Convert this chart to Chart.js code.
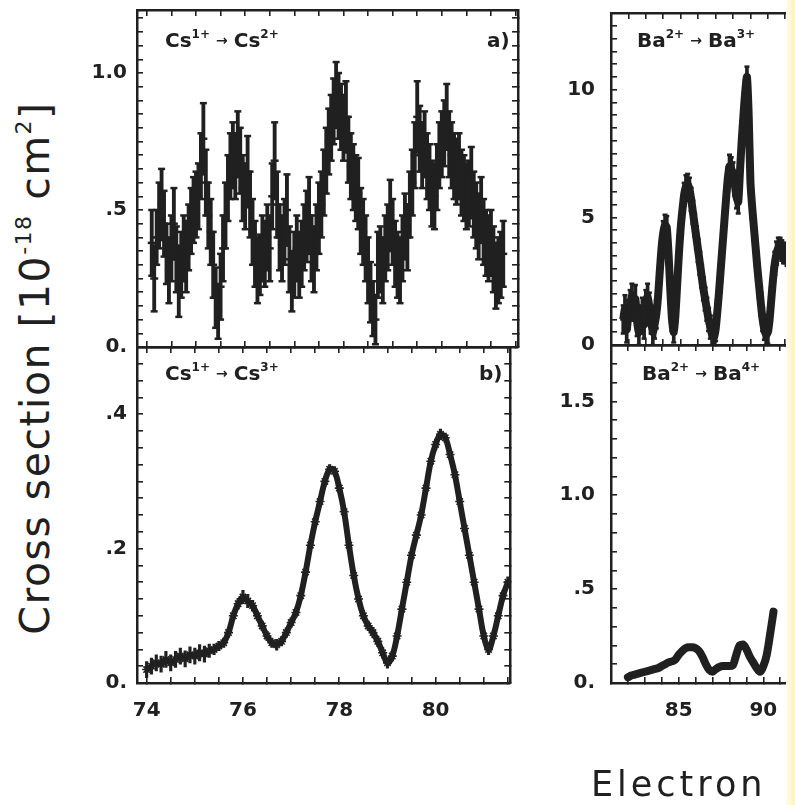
<!DOCTYPE html>
<html>
<head>
<meta charset="utf-8">
<script src="https://cdn.jsdelivr.net/npm/chart.js@4.4.1/dist/chart.umd.min.js"></script>
<style>
  html, body { margin: 0; padding: 0; background: #fff; }
  #page { position: relative; width: 795px; height: 805px; overflow: hidden; background: #fff; }
  #clip { position: absolute; left: 0; top: 0; width: 786px; height: 805px; overflow: hidden; }
  #strip { position: absolute; left: 786px; top: 0; width: 9px; height: 805px;
           background: linear-gradient(to right, #fffce8, #fbf3c0); }
  canvas { position: absolute; }
  .lbl { position: absolute; font-family: 'DejaVu Sans', sans-serif; font-weight: bold;
         font-size: 20px; line-height: 1; color: #202020; white-space: nowrap; }
  .lbl sup { font-size: 12px; vertical-align: 9px; line-height: 0; }
  .lbl .arr { font-size: 14px; font-weight: bold; margin: 0 6px; vertical-align: 2px; }
  #ytitle { position: absolute; left: 35px; top: 368px; transform: translate(-50%, -50%) rotate(-90deg);
            font-family: 'DejaVu Sans', sans-serif; font-size: 41px; line-height: 1; color: #202020;
            white-space: nowrap; letter-spacing: 1.5px; }
  #ytitle sup { font-size: 22px; vertical-align: 18px; line-height: 0; }
  #xtitle { position: absolute; left: 591px; top: 767px; font-family: 'DejaVu Sans', sans-serif;
            font-size: 35px; line-height: 1; color: #202020; letter-spacing: 4px; white-space: nowrap; }
</style>
</head>
<body>
<div id="page">
  <div id="clip">
    <canvas id="pa" width="470" height="417" style="left:60px;top:-30px"></canvas>
    <canvas id="pb" width="470" height="433" style="left:60px;top:307px"></canvas>
    <canvas id="pc" width="330" height="412" style="left:540px;top:-27px"></canvas>
    <canvas id="pd" width="330" height="435" style="left:540px;top:305px"></canvas>

    <div class="lbl" style="left:165px;top:30px">Cs<sup>1+</sup><span class="arr">→</span>Cs<sup>2+</sup></div>
    <div class="lbl" style="left:487px;top:30px">a)</div>
    <div class="lbl" style="left:165px;top:363px">Cs<sup>1+</sup><span class="arr">→</span>Cs<sup>3+</sup></div>
    <div class="lbl" style="left:479px;top:363px">b)</div>
    <div class="lbl" style="left:637px;top:30px">Ba<sup>2+</sup><span class="arr">→</span>Ba<sup>3+</sup></div>
    <div class="lbl" style="left:642px;top:363px">Ba<sup>2+</sup><span class="arr">→</span>Ba<sup>4+</sup></div>

    <div id="ytitle">Cross section [10<sup>-18</sup> cm<sup>2</sup>]</div>
    <div id="xtitle">Electron</div>
  </div>
  <div id="strip"></div>
</div>

<script>
// ---- panel a: Cs1+ -> Cs2+ ----
const aE = [
  74.10, 74.15, 74.20, 74.25, 74.30, 74.35, 74.40, 74.45, 74.50, 74.55,
  74.60, 74.65, 74.70, 74.75, 74.80, 74.85, 74.90, 74.95, 75.00, 75.05,
  75.10, 75.15, 75.20, 75.25, 75.30, 75.35, 75.40, 75.45, 75.50, 75.55,
  75.60, 75.65, 75.70, 75.75, 75.80, 75.85, 75.90, 75.95, 76.00, 76.05,
  76.10, 76.15, 76.20, 76.25, 76.30, 76.35, 76.40, 76.45, 76.50, 76.55,
  76.60, 76.65, 76.70, 76.75, 76.80, 76.85, 76.90, 76.95, 77.00, 77.05,
  77.10, 77.15, 77.20, 77.25, 77.30, 77.35, 77.40, 77.45, 77.50, 77.55,
  77.60, 77.65, 77.70, 77.75, 77.80, 77.85, 77.90, 77.95, 78.00, 78.05,
  78.10, 78.15, 78.20, 78.25, 78.30, 78.35, 78.40, 78.45, 78.50, 78.55,
  78.60, 78.65, 78.70, 78.75, 78.80, 78.85, 78.90, 78.95, 79.00, 79.05,
  79.10, 79.15, 79.20, 79.25, 79.30, 79.35, 79.40, 79.45, 79.50, 79.55,
  79.60, 79.65, 79.70, 79.75, 79.80, 79.85, 79.90, 79.95, 80.00, 80.05,
  80.10, 80.15, 80.20, 80.25, 80.30, 80.35, 80.40, 80.45, 80.50, 80.55,
  80.60, 80.65, 80.70, 80.75, 80.80, 80.85, 80.90, 80.95, 81.00, 81.05,
  81.10, 81.15, 81.20, 81.25
];
const aVal = [
  .38, .25, .40, .48, .52, .45, .34, .28, .36, .45,
  .32, .24, .30, .36, .33, .40, .46, .50, .52, .55,
  .66, .76, .60, .48, .42, .30, .18, .13, .22, .36,
  .48, .58, .66, .70, .66, .74, .68, .58, .55, .64,
  .52, .42, .34, .28, .30, .36, .34, .40, .36, .55,
  .68, .52, .40, .36, .42, .50, .32, .24, .30, .36,
  .30, .34, .40, .44, .48, .36, .32, .40, .47, .52,
  .60, .68, .75, .80, .86, .92, .88, .84, .80, .84,
  .72, .66, .62, .58, .56, .46, .42, .36, .28, .20,
  .14, .10, .30, .32, .28, .36, .40, .48, .42, .34,
  .30, .28, .36, .44, .40, .52, .60, .70, .84, .76,
  .70, .74, .66, .62, .56, .55, .62, .70, .74, .78,
  .84, .74, .70, .66, .64, .66, .60, .58, .55, .56,
  .60, .52, .48, .44, .50, .42, .38, .36, .38, .32,
  .26, .28, .30, .34
];
const aErr = [
  .12, .12, .10, .12, .13, .12, .11, .12, .12, .13,
  .12, .13, .12, .12, .13, .12, .12, .12, .12, .12,
  .12, .13, .12, .12, .12, .12, .11, .10, .12, .12,
  .12, .12, .12, .12, .12, .12, .12, .12, .12, .13,
  .12, .12, .12, .12, .11, .12, .12, .12, .12, .12,
  .14, .12, .12, .12, .12, .13, .12, .11, .12, .12,
  .12, .12, .12, .13, .14, .12, .12, .12, .13, .12,
  .12, .12, .12, .12, .12, .12, .12, .12, .12, .13,
  .12, .12, .12, .12, .13, .12, .12, .12, .12, .11,
  .10, .09, .12, .12, .12, .12, .12, .13, .12, .12,
  .12, .12, .12, .12, .12, .12, .12, .12, .13, .12,
  .12, .12, .12, .12, .12, .12, .12, .12, .12, .12,
  .12, .12, .12, .12, .12, .12, .12, .12, .12, .12,
  .13, .12, .12, .12, .12, .12, .12, .12, .12, .12,
  .12, .12, .12, .12
];
const aTickVals = [0, 0.5, 1.0];
const aTickText = ['0.', '.5', '1.0'];

// ---- panel b: Cs1+ -> Cs3+ ----
const bE = [
  74.0, 74.1, 74.2, 74.3, 74.4, 74.5, 74.6, 74.7, 74.8, 74.9,
  75.0, 75.1, 75.2, 75.3, 75.4, 75.5, 75.6, 75.7, 75.8, 75.9,
  76.0, 76.1, 76.2, 76.3, 76.4, 76.5, 76.6, 76.7, 76.8, 76.9,
  77.0, 77.1, 77.2, 77.3, 77.4, 77.5, 77.6, 77.7, 77.8, 77.9,
  78.0, 78.1, 78.2, 78.3, 78.4, 78.5, 78.6, 78.7, 78.8, 78.9,
  79.0, 79.1, 79.2, 79.3, 79.4, 79.5, 79.6, 79.7, 79.8, 79.9,
  80.0, 80.1, 80.2, 80.3, 80.4, 80.5, 80.6, 80.7, 80.8, 80.9,
  81.0, 81.1, 81.2, 81.3, 81.4, 81.5
];
const bVal = [
  .020, .025, .030, .028, .035, .030, .035, .040, .036, .042,
  .040, .045, .043, .048, .050, .055, .060, .075, .100, .118,
  .128, .122, .115, .100, .085, .070, .060, .057, .062, .075,
  .090, .105, .130, .165, .205, .240, .270, .300, .318, .315,
  .290, .255, .205, .160, .125, .100, .085, .075, .062, .045,
  .030, .040, .070, .110, .150, .190, .220, .250, .290, .330,
  .355, .370, .365, .340, .310, .270, .230, .190, .150, .110,
  .070, .050, .070, .100, .130, .150
];
const bErr = [
  .012, .012, .012, .012, .012, .012, .012, .012, .012, .012,
  .012, .012, .012, .010, .008, .007, .007, .007, .007, .008,
  .010, .010, .008, .007, .007, .007, .007, .008, .007, .007,
  .007, .007, .007, .007, .007, .007, .007, .007, .007, .007,
  .007, .007, .007, .008, .008, .007, .007, .008, .008, .008,
  .008, .007, .007, .007, .007, .007, .007, .007, .007, .007,
  .008, .008, .007, .007, .007, .007, .007, .007, .007, .007,
  .008, .008, .008, .008, .008, .008
];
const bTickVals = [0, 0.2, 0.4];
const bTickText = ['0.', '.2', '.4'];
const leftXTickVals = [74, 76, 78, 80];
const leftXTickText = ['74', '76', '78', '80'];

// ---- panel c: Ba2+ -> Ba3+ ----
const cE = [
  81.7, 81.8, 81.9, 82.0, 82.1, 82.2, 82.3, 82.4, 82.5, 82.6,
  82.7, 82.8, 82.9, 83.0, 83.1, 83.2, 83.3, 83.4, 83.5, 83.6,
  83.7, 83.8, 83.9, 84.0, 84.1, 84.2, 84.3, 84.4, 84.5, 84.6,
  84.7, 84.8, 84.9, 85.0, 85.1, 85.2, 85.3, 85.4, 85.5, 85.6,
  85.7, 85.8, 85.9, 86.0, 86.1, 86.2, 86.3, 86.4, 86.5, 86.6,
  86.7, 86.8, 86.9, 87.0, 87.1, 87.2, 87.3, 87.4, 87.5, 87.6,
  87.7, 87.8, 87.9, 88.0, 88.1, 88.2, 88.3, 88.4, 88.5, 88.6,
  88.7, 88.8, 88.9, 89.0, 89.1, 89.2, 89.3, 89.4, 89.5, 89.6,
  89.7, 89.8, 89.9, 90.0, 90.1, 90.2, 90.3, 90.4, 90.5, 90.6,
  90.7, 90.8, 90.9, 91.0, 91.1, 91.2
];
const cVal = [
  1.0, 1.4, 0.6, 1.2, 1.6, 1.9, 1.5, 1.8, 0.9, 0.5,
  1.0, 1.3, 0.8, 1.6, 1.9, 1.5, 1.0, 0.5, 0.8, 1.2,
  1.9, 2.9, 3.8, 4.4, 4.7, 4.6, 3.6, 2.2, 1.0, 0.5,
  1.2, 2.4, 3.6, 4.6, 5.3, 5.9, 6.2, 6.3, 6.1, 5.7,
  5.2, 4.7, 4.2, 3.7, 3.2, 2.7, 2.2, 1.8, 1.4, 1.0,
  0.7, 0.4, 0.3, 0.6, 1.3, 2.1, 3.0, 3.9, 4.8, 5.7,
  6.5, 7.0, 6.9, 6.7, 6.3, 5.8, 5.6, 6.8, 8.0, 9.0,
  9.9, 10.5, 9.0, 6.4, 5.4, 4.6, 3.8, 3.0, 2.3, 1.6,
  1.0, 0.6, 0.4, 0.5, 1.0, 1.8, 2.6, 3.2, 3.6, 3.8,
  3.8, 3.7, 3.6, 3.6, 3.5, 3.5
];
const cErr = [
  .55, .55, .50, .55, .55, .50, .55, .55, .55, .50,
  .55, .55, .55, .55, .50, .55, .55, .50, .55, .55,
  .45, .45, .45, .45, .40, .45, .45, .45, .45, .40,
  .45, .45, .45, .45, .45, .45, .45, .40, .45, .45,
  .45, .45, .45, .45, .45, .45, .45, .45, .45, .45,
  .45, .40, .40, .45, .45, .45, .45, .45, .45, .45,
  .45, .45, .45, .45, .45, .45, .45, .45, .45, .45,
  .45, .40, .45, .45, .45, .45, .45, .45, .45, .45,
  .45, .40, .40, .45, .45, .45, .45, .45, .45, .40,
  .40, .40, .40, .40, .40, .40
];
const cTickVals = [0, 5, 10];
const cTickText = ['0', '5', '10'];

// ---- panel d: Ba2+ -> Ba4+ ----
const dE = [
  82.0, 82.2, 82.4, 82.6, 82.8, 83.0, 83.2, 83.4, 83.6, 83.8,
  84.0, 84.2, 84.4, 84.6, 84.8, 85.0, 85.2, 85.4, 85.6, 85.8,
  86.0, 86.2, 86.4, 86.6, 86.8, 87.0, 87.2, 87.4, 87.6, 87.8,
  88.0, 88.2, 88.4, 88.6, 88.8, 89.0, 89.2, 89.4, 89.6, 89.8,
  90.0, 90.2, 90.4, 90.6
];
const dVal = [
  .030, .040, .045, .050, .055, .060, .065, .070, .075, .080,
  .090, .100, .110, .115, .125, .150, .170, .185, .190, .190,
  .185, .170, .140, .100, .070, .060, .075, .085, .090, .090,
  .090, .095, .150, .200, .205, .180, .140, .110, .080, .060,
  .090, .150, .260, .380
];
const dTickVals = [0, 0.5, 1.0, 1.5];
const dTickText = ['0.', '.5', '1.0', '1.5'];
const rightXTickVals = [85, 90];
const rightXTickText = ['85', '90'];

const ink = '#202020';

function labeler(vals, texts) {
  return function (v) {
    for (let i = 0; i < vals.length; i++) {
      if (Math.abs(v - vals[i]) < 1e-6) return texts[i];
    }
    return '';
  };
}

// framed axis with inward ticks; size fixes the axis box so the plot areas line up
function axis(position, min, max, step, size, labels) {
  const horiz = position === 'top' || position === 'bottom';
  return {
    type: 'linear', position: position, min: min, max: max, offset: false,
    afterFit: function (s) { if (horiz) s.height = size; else s.width = size; },
    border: { display: true, color: ink, width: 2.5 },
    grid: { drawOnChartArea: false, drawTicks: true, tickLength: -6, color: ink, lineWidth: 1.6, offset: false },
    ticks: {
      stepSize: step, includeBounds: false, autoSkip: false, maxRotation: 0, minRotation: 0,
      display: !!labels,
      padding: labels ? labels.pad : 0,
      color: ink,
      font: { family: 'DejaVu Sans', size: 20, weight: 'bold' },
      callback: labels ? labeler(labels.vals, labels.text) : function () { return ''; }
    }
  };
}

function baseOptions(scales, padding) {
  return {
    responsive: false, animation: false, devicePixelRatio: 1, events: [],
    layout: { padding: padding },
    plugins: { legend: { display: false }, tooltip: { enabled: false } },
    scales: scales
  };
}

function marks(data, r, w) {
  return { type: 'line', data: data, showLine: false, pointStyle: 'line', pointRadius: r,
           pointBorderWidth: w, pointBorderColor: ink, pointBackgroundColor: ink };
}

// floating bars for the error bars, plus caps and centre marks
function errorBarSets(xs, ys, es, barW, capR) {
  const bars = xs.map((x, i) => ({ x: x, y: [ys[i] - es[i], ys[i] + es[i]] }));
  const tops = xs.map((x, i) => ({ x: x, y: ys[i] + es[i] }));
  const lows = xs.map((x, i) => ({ x: x, y: ys[i] - es[i] }));
  const mids = xs.map((x, i) => ({ x: x, y: ys[i] }));
  const sets = [{ type: 'bar', data: bars, backgroundColor: ink, barThickness: barW, grouped: false }];
  if (capR) sets.push(marks(tops, capR, 2.5), marks(lows, capR, 2.5), marks(mids, capR + 0.5, 2.5));
  return sets;
}

// panel a
new Chart(document.getElementById('pa'), {
  type: 'bar',
  data: { datasets: errorBarSets(aE, aVal, aErr, 3.2, 3.5) },
  options: baseOptions({
    x: axis('bottom', 73.8, 81.55, 0.5, 40, null),
    xTop: axis('top', 73.8, 81.55, 0.5, 0, null),
    y: axis('left', 0, 1.23, 0.05, 77, { vals: aTickVals, text: aTickText, pad: 16 }),
    yRight: axis('right', 0, 1.23, 0.05, 0, null)
  }, { top: 40, right: 12, bottom: 0, left: 0 })
});

// panel b
const bSets = errorBarSets(bE, bVal, bErr, 2.5, 0);
bSets.push({
  type: 'line', data: bE.map((x, i) => ({ x: x, y: bVal[i] })),
  borderColor: ink, borderWidth: 6, tension: 0.35,
  pointStyle: 'star', pointRadius: 4.5, pointBorderWidth: 1.6,
  pointBorderColor: ink, pointBackgroundColor: ink
});
new Chart(document.getElementById('pb'), {
  type: 'bar',
  data: { datasets: bSets },
  options: baseOptions({
    x: axis('bottom', 73.8, 81.55, 0.5, 57, { vals: leftXTickVals, text: leftXTickText, pad: 22 }),
    xTop: axis('top', 73.8, 81.55, 0.5, 0, null),
    y: axis('left', 0, 0.5, 0.025, 77, { vals: bTickVals, text: bTickText, pad: 16 }),
    yRight: axis('right', 0, 0.5, 0.025, 0, null)
  }, { top: 40, right: 12, bottom: 0, left: 0 })
});

// panel c
const cSets = errorBarSets(cE, cVal, cErr, 3, 2.5);
cSets.push({
  type: 'line', data: cE.map((x, i) => ({ x: x, y: cVal[i] })),
  borderColor: ink, borderWidth: 8, pointRadius: 0, tension: 0.2
});
new Chart(document.getElementById('pc'), {
  type: 'bar',
  data: { datasets: cSets },
  options: baseOptions({
    x: axis('bottom', 81, 95, 1, 40, null),
    xTop: axis('top', 81, 95, 1, 0, null),
    y: axis('left', 0, 13, 0.5, 71, { vals: cTickVals, text: cTickText, pad: 22 }),
    yRight: axis('right', 0, 13, 0.5, 0, null)
  }, { top: 40, right: 15, bottom: 0, left: 0 })
});

// panel d
new Chart(document.getElementById('pd'), {
  type: 'line',
  data: {
    datasets: [{
      data: dE.map((x, i) => ({ x: x, y: dVal[i] })),
      borderColor: ink, borderWidth: 8, pointRadius: 0,
      cubicInterpolationMode: 'monotone', borderCapStyle: 'round'
    }]
  },
  options: baseOptions({
    x: axis('bottom', 81, 95, 1, 57, { vals: rightXTickVals, text: rightXTickText, pad: 22 }),
    xTop: axis('top', 81, 95, 1, 0, null),
    y: axis('left', 0, 1.8, 0.1, 71, { vals: dTickVals, text: dTickText, pad: 22 }),
    yRight: axis('right', 0, 1.8, 0.1, 0, null)
  }, { top: 40, right: 15, bottom: 0, left: 0 })
});
</script>
</body>
</html>
